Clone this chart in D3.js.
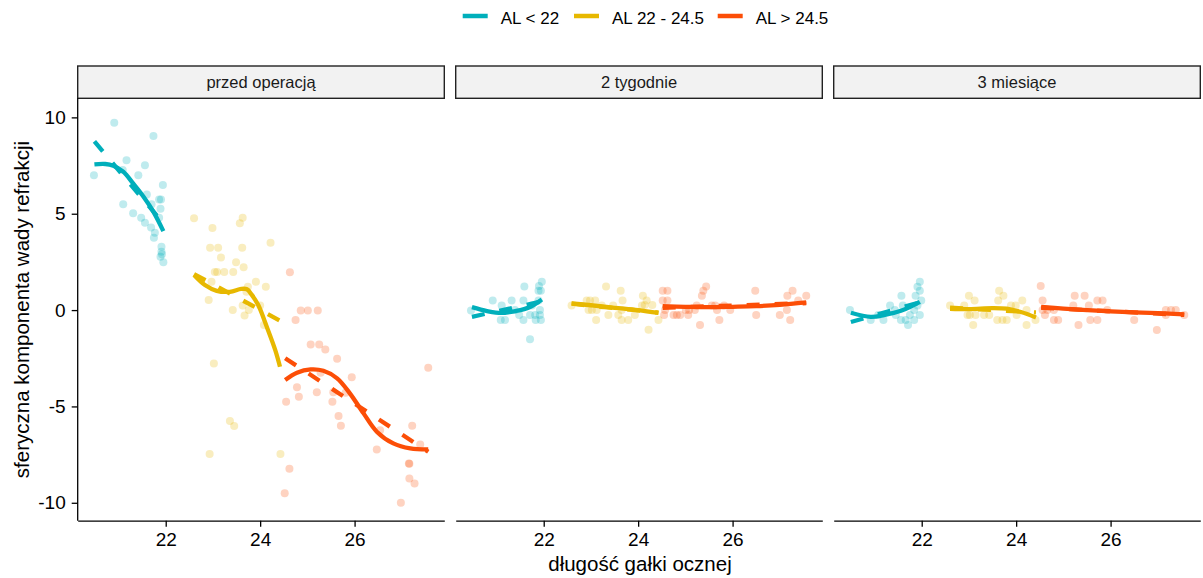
<!DOCTYPE html>
<html><head><meta charset="utf-8">
<script src="https://cdn.jsdelivr.net/npm/d3@7"></script>
<style>body{margin:0;background:#fff;} text{font-family:Arial,"Liberation Sans",sans-serif;}</style>
</head><body><svg id="c" width="1203" height="578"></svg>
<script>
// ---------- data ----------
const panels = ["przed operacją", "2 tygodnie", "3 miesiące"];
const groups = ["AL < 22", "AL 22 - 24.5", "AL > 24.5"];
const colors = ["#00AFBB", "#E7B800", "#FC4E07"];
const xTicks = [22, 24, 26];
const yTicks = [-10, -5, 0, 5, 10];

// points [axial length, spherical refraction]
const pre_lt22 = [[20.91,9.72],[21.74,9.03],[20.48,7.0],[21.17,7.78],[21.56,7.52],[21.09,7.27],[21.42,7.0],[21.10,5.49],[21.94,6.49],[21.60,6.0],[21.70,5.49],[21.86,5.74],[21.90,5.74],[21.89,5.26],[21.31,5.02],[21.48,4.79],[21.56,4.53],[21.69,4.29],[21.86,4.79],[21.77,4.01],[21.75,3.75],[21.91,3.29],[21.91,3.03],[21.92,2.9],[21.89,2.77],[21.95,2.48]];
const pre_mid = [[22.60,4.76],[23.63,4.79],[23.57,4.50],[22.99,4.26],[22.94,3.23],[23.11,3.23],[23.62,3.23],[24.22,3.49],[23.17,2.73],[23.49,2.48],[23.65,2.22],[23.04,1.97],[23.09,1.97],[23.24,1.97],[23.43,1.97],[22.97,1.47],[23.91,1.47],[24.12,1.21],[23.74,1.21],[23.71,0.95],[22.91,0.52],[23.63,0.24],[23.76,0.0],[23.42,0.0],[23.67,-0.28],[24.0,0.24],[24.08,-0.78],[23.02,-2.77],[23.36,-5.76],[23.45,-6.02],[22.93,-7.47],[24.43,-7.47]];
const pre_gt = [[24.63,1.96],[24.86,-0.02],[25.01,-0.02],[25.22,-0.02],[24.75,-0.52],[25.07,-1.78],[25.25,-1.78],[25.38,-2.04],[25.63,-2.53],[27.56,-2.99],[25.94,-3.49],[25.28,-3.25],[24.78,-4.01],[24.82,-4.5],[25.20,-4.26],[25.55,-4.26],[25.81,-4.29],[24.55,-4.76],[25.53,-4.76],[25.66,-5.50],[25.71,-6.0],[27.22,-6.0],[26.54,-6.23],[26.47,-7.23],[27.39,-6.97],[27.15,-7.96],[27.16,-7.98],[27.16,-8.74],[27.27,-9.0],[24.62,-8.23],[24.52,-9.5],[26.98,-10.0]];

const w2_lt22 = [[20.46,-0.02],[20.92,0.50],[21.11,0.24],[21.32,0.50],[21.57,0.50],[21.59,1.23],[21.09,-0.52],[21.18,-0.52],[21.48,-0.26],[21.57,-0.52],[21.75,0.24],[21.71,-0.26],[21.82,-0.26],[21.83,-0.52],[21.94,-0.52],[21.92,-0.26],[21.89,0.50],[21.96,1.47],[21.90,1.25],[21.89,1.0],[21.94,1.0],[21.92,0.0],[21.71,-1.52],[21.39,0.0]];
const w2_mid = [[22.59,0.24],[23.32,1.23],[23.63,1.0],[22.91,0.50],[22.98,0.50],[23.09,0.50],[22.95,0.0],[23.02,0.0],[23.12,0.0],[23.23,0.24],[23.11,-0.52],[23.37,-0.26],[23.47,0.24],[23.58,-0.26],[23.65,0.0],[23.67,0.50],[23.65,-0.52],[23.79,-0.52],[23.93,-0.26],[24.08,0.24],[24.10,0.74],[24.18,0.50],[24.14,0.26],[24.30,0.26],[24.43,-0.52],[24.22,-1.02]];
const w2_gt = [[24.52,1.0],[24.62,1.0],[24.52,0.50],[24.62,0.50],[24.57,0.0],[24.55,-0.26],[24.75,-0.26],[24.82,-0.26],[24.89,-0.26],[25.06,-0.26],[25.08,0.0],[25.01,0.0],[25.20,0.0],[25.24,0.24],[25.31,-0.78],[25.35,0.74],[25.38,1.0],[25.44,1.23],[25.56,0.24],[25.63,0.24],[25.67,0.0],[25.72,-0.52],[25.82,0.24],[25.95,0.0],[26.48,1.0],[26.50,-0.26],[27.0,-0.26],[27.15,0.0],[27.16,0.74],[27.27,1.0],[27.22,-0.52],[27.39,0.50],[27.56,0.74]];

const m3_lt22 = [[20.48,0.0],[20.92,-0.52],[21.08,-0.26],[21.19,-0.52],[21.33,0.24],[21.43,0.0],[21.45,-0.26],[21.56,-0.52],[21.57,0.74],[21.60,0.24],[21.66,-0.52],[21.71,-0.78],[21.75,-0.26],[21.84,-0.52],[21.87,0.74],[21.91,0.24],[21.96,-0.26],[21.96,1.47],[21.91,1.21],[21.96,1.0],[21.99,0.50],[21.84,0.0]];
const m3_mid = [[22.60,0.24],[23.0,0.74],[23.12,0.50],[22.90,0.24],[22.97,-0.26],[23.02,-0.26],[23.14,-0.26],[23.09,-0.78],[23.32,-0.26],[23.43,-0.26],[23.62,0.50],[23.64,1.0],[23.73,0.74],[23.60,-0.52],[23.71,-0.52],[23.80,-0.52],[23.89,0.24],[23.99,0.24],[24.01,-0.26],[24.13,0.50],[24.22,0.0],[24.22,-0.78],[24.41,-0.52]];
const m3_gt = [[24.52,1.25],[24.56,0.50],[24.56,0.0],[24.61,-0.26],[24.80,0.0],[24.80,-0.52],[24.89,-0.52],[25.21,0.24],[25.24,0.74],[25.45,0.74],[25.32,-0.78],[25.54,0.24],[25.57,-0.52],[25.72,0.50],[25.72,-0.52],[25.83,0.50],[25.93,0.0],[26.50,-0.52],[26.98,-1.04],[27.17,0.0],[27.28,0.0],[27.38,0.0],[27.17,-0.26],[27.56,-0.26],[24.66,0.0]];

// smoothed curves (loess = solid, linear fit = dashed)
const pre_lt22_loess = [[20.49,7.56],[20.72,7.58],[20.89,7.49],[21.10,7.18],[21.31,6.57],[21.53,5.88],[21.74,5.10],[21.95,4.10]];
const pre_lt22_lm = [[20.49,8.75],[21.95,4.5]];
const pre_mid_loess = [[22.60,1.82],[22.83,1.30],[23.08,1.0],[23.36,0.95],[23.60,1.10],[23.72,1.08],[23.82,0.80],[23.96,0.26],[24.14,-0.87],[24.32,-2.08],[24.42,-2.94]];
const pre_mid_lm = [[22.60,1.87],[24.42,-0.55]];
const pre_gt_loess = [[24.53,-3.63],[24.78,-3.25],[25.07,-3.08],[25.34,-3.15],[25.63,-3.54],[25.90,-4.32],[26.19,-5.36],[26.47,-6.31],[26.82,-6.92],[27.18,-7.18],[27.56,-7.23]];
const pre_gt_lm = [[24.53,-2.5],[27.56,-7.35]];

const w2_lt22_loess = [[20.48,0.15],[20.8,-0.05],[21.1,-0.15],[21.4,-0.05],[21.7,0.15],[21.96,0.55]];
const w2_lt22_lm = [[20.48,-0.35],[21.96,0.45]];
const w2_mid_loess = [[22.59,0.35],[23.0,0.25],[23.5,0.12],[24.0,0.0],[24.43,-0.15]];
const w2_mid_lm = [[22.59,0.33],[24.43,-0.13]];
const w2_gt_loess = [[24.52,0.2],[25.0,0.17],[25.5,0.15],[26.0,0.17],[26.5,0.2],[27.0,0.27],[27.56,0.4]];
const w2_gt_lm = [[24.52,0.12],[27.56,0.36]];

const m3_lt22_loess = [[20.50,-0.14],[20.92,-0.35],[21.2,-0.26],[21.56,-0.04],[21.96,0.43]];
const m3_lt22_lm = [[20.50,-0.62],[21.96,0.40]];
const m3_mid_loess = [[22.6,0.07],[23.0,0.05],[23.5,0.1],[23.8,0.07],[24.1,-0.1],[24.42,-0.38]];
const m3_mid_lm = [[22.6,0.12],[24.42,-0.12]];
const m3_gt_loess = [[24.53,0.17],[25.0,0.08],[25.5,0.0],[26.0,-0.07],[26.5,-0.12],[27.0,-0.16],[27.56,-0.22]];
const m3_gt_lm = [[24.53,0.12],[27.56,-0.25]];

const pointSets = [[pre_lt22, pre_mid, pre_gt],[w2_lt22, w2_mid, w2_gt],[m3_lt22, m3_mid, m3_gt]];
const loessSets = [[pre_lt22_loess, pre_mid_loess, pre_gt_loess],[w2_lt22_loess, w2_mid_loess, w2_gt_loess],[m3_lt22_loess, m3_mid_loess, m3_gt_loess]];
const lmSets = [[pre_lt22_lm, pre_mid_lm, pre_gt_lm],[w2_lt22_lm, w2_mid_lm, w2_gt_lm],[m3_lt22_lm, m3_mid_lm, m3_gt_lm]];

// ---------- layout ----------
const panelLefts = [77.7, 455.7, 833.7];
const panelW = 366.6;
const stripTop = 66, plotTop = 98.3, plotBottom = 520.7;
const svg = d3.select("#c");
const y = d3.scaleLinear().domain([-10.93, 10.99]).range([plotBottom, plotTop]);
const color = d3.scaleOrdinal().domain(groups).range(colors);

panels.forEach((name, i) => {
  const L = panelLefts[i];
  const x = d3.scaleLinear().domain([20.136, 27.90]).range([L, L + panelW]);
  const g = svg.append("g");
  // strip
  g.append("rect").attr("x", L).attr("y", stripTop).attr("width", panelW).attr("height", plotTop - stripTop)
    .attr("fill", "#f2f2f2").attr("stroke", "#222").attr("stroke-width", 1.4);
  g.append("text").attr("x", L + panelW / 2).attr("y", 88).attr("text-anchor", "middle")
    .attr("font-size", 16.5).attr("fill", "#1a1a1a").text(name);
  // points
  pointSets[i].forEach((pts, gi) => {
    g.append("g").selectAll("circle").data(pts).join("circle")
      .attr("cx", d => x(d[0])).attr("cy", d => y(d[1])).attr("r", 4)
      .attr("fill", color(groups[gi])).attr("fill-opacity", 0.25);
  });
  const line = d3.line().x(d => x(d[0])).y(d => y(d[1])).curve(d3.curveCatmullRom);
  loessSets[i].forEach((c, gi) => {
    g.append("path").attr("d", line(c)).attr("fill", "none").attr("stroke", color(groups[gi]))
      .attr("stroke-width", 4.3);
  });
  lmSets[i].forEach((c, gi) => {
    g.append("path").attr("d", d3.line().x(d => x(d[0])).y(d => y(d[1]))(c)).attr("fill", "none")
      .attr("stroke", color(groups[gi])).attr("stroke-width", 4.3).attr("stroke-dasharray", "13,15");
  });
  // x axis
  const ax = g.append("g").attr("transform", `translate(0,${plotBottom})`)
    .call(d3.axisBottom(x).tickValues(xTicks).tickSize(6).tickSizeOuter(0).tickPadding(6).tickFormat(d3.format("d")));
  ax.selectAll("path,line").attr("stroke", "#000").attr("stroke-width", 1.3);
  ax.selectAll("text").attr("font-size", 19).attr("fill", "#000").attr("font-family", "Arial,'Liberation Sans',sans-serif");
  if (i === 0) {
    const ay = g.append("g").attr("transform", `translate(${L},0)`)
      .call(d3.axisLeft(y).tickValues(yTicks).tickSize(6).tickSizeOuter(0).tickPadding(6).tickFormat(d => String(d)));
    ay.select(".domain").attr("d", `M0,${plotTop}V${plotBottom}`);
    ay.selectAll("path,line").attr("stroke", "#000").attr("stroke-width", 1.3);
    ay.selectAll("text").attr("font-size", 19).attr("fill", "#000").attr("font-family", "Arial,'Liberation Sans',sans-serif");
  }
});

// axis titles
svg.append("text").attr("x", 640).attr("y", 571).attr("text-anchor", "middle").attr("font-size", 20.5)
  .attr("fill", "#000").text("długość gałki ocznej");
svg.append("text").attr("transform", `translate(29,${(plotTop + plotBottom) / 2}) rotate(-90)`)
  .attr("text-anchor", "middle").attr("font-size", 20.5).attr("fill", "#000").text("sferyczna komponenta wady refrakcji");

// legend
const legendKeyX = [462.7, 574, 717.7];
const lg = svg.append("g");
groups.forEach((gname, gi) => {
  lg.append("line").attr("x1", legendKeyX[gi]).attr("x2", legendKeyX[gi] + 25).attr("y1", 16).attr("y2", 16)
    .attr("stroke", color(gname)).attr("stroke-width", 4.5);
  lg.append("text").attr("x", legendKeyX[gi] + 38).attr("y", 24).attr("font-size", 17).attr("fill", "#000").text(gname);
});
</script></body></html>
